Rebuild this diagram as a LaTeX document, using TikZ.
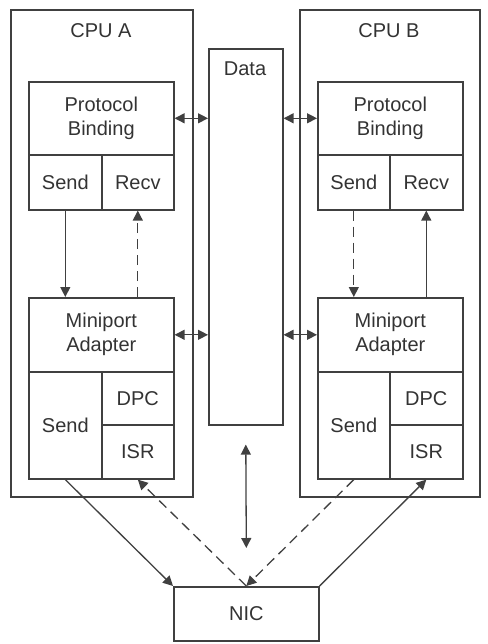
\documentclass[tikz,border=0pt]{standalone}
\usepackage{fontspec}
\setmainfont{Liberation Sans}
\usetikzlibrary{arrows.meta}
\definecolor{lc}{HTML}{404040}
\definecolor{tc}{HTML}{333333}
\begin{document}
\begin{tikzpicture}[x=1pt,y=-1pt,
  box/.style={draw=lc, line width=1.6pt, inner sep=0pt, anchor=north west, font=\fontsize{20}{24}\selectfont, text=tc, align=center},
  ttl/.style={font=\fontsize{20}{24}\selectfont, text=tc, inner sep=0pt},
  arr/.style={draw=lc, line width=1.3pt, -{Triangle[length=10pt,width=10pt]}},
  darr/.style={arr, dash pattern=on 10pt off 6pt},
  barr/.style={draw=lc, line width=1.3pt, {Triangle[length=10pt,width=10pt]}-{Triangle[length=10pt,width=10pt]}}]
\useasboundingbox (0,0) rectangle (487,644);
% outer CPU boxes
\node[box, minimum width=182pt, minimum height=487pt] (cpuA) at (10,9) {};
\node[box, minimum width=180pt, minimum height=487pt] (cpuB) at (299,9) {};
\node[ttl] (cpuAt) at (101,31) {CPU A};
\node[ttl] (cpuBt) at (389,31) {CPU B};
% data
\node[box, minimum width=74pt, minimum height=376pt] (data) at (208,48) {};
\node[ttl] (datat) at (245,69) {Data};
% CPU A
\node[box, minimum width=145pt, minimum height=73pt] (pbA) at (28,81) {Protocol\\Binding};
\node[box, minimum width=73pt, minimum height=55pt] (sendA) at (28,154) {Send};
\node[box, minimum width=72pt, minimum height=55pt] (recvA) at (101,154) {Recv};
\node[box, minimum width=145pt, minimum height=74pt] (mpA) at (28,297) {Miniport\\Adapter};
\node[box, minimum width=73pt, minimum height=107pt] (msendA) at (28,371) {Send};
\node[box, minimum width=72pt, minimum height=53pt] (dpcA) at (101,371) {DPC};
\node[box, minimum width=72pt, minimum height=54pt] (isrA) at (101,424) {ISR};
% CPU B
\node[box, minimum width=145pt, minimum height=73pt] (pbB) at (317,81) {Protocol\\Binding};
\node[box, minimum width=72pt, minimum height=55pt] (sendB) at (317,154) {Send};
\node[box, minimum width=73pt, minimum height=55pt] (recvB) at (389,154) {Recv};
\node[box, minimum width=145pt, minimum height=74pt] (mpB) at (317,297) {Miniport\\Adapter};
\node[box, minimum width=72pt, minimum height=107pt] (msendB) at (317,371) {Send};
\node[box, minimum width=73pt, minimum height=53pt] (dpcB) at (389,371) {DPC};
\node[box, minimum width=73pt, minimum height=54pt] (isrB) at (389,424) {ISR};
% NIC
\node[box, minimum width=145pt, minimum height=54pt] (nic) at (173,586) {NIC};
% vertical arrows inside CPUs
\draw[arr] (sendA.south) -- (sendA.south |- mpA.north);
\draw[darr] (recvA.south |- mpA.north) -- (recvA.south);
\draw[darr] (sendB.south) -- (sendB.south |- mpB.north);
\draw[arr] (recvB.south |- mpB.north) -- (recvB.south);
% horizontal arrows to data
\draw[barr] (pbA.east) -- (pbA.east -| data.west);
\draw[barr] (mpA.east) -- (mpA.east -| data.west);
\draw[barr] (pbB.west -| data.east) -- (pbB.west);
\draw[barr] (mpB.west -| data.east) -- (mpB.west);
% data to NIC
\draw[barr] ([yshift=-19pt]data.south) -- ([yshift=38pt]nic.north);
% diagonals
\draw[arr] (msendA.south) -- (nic.north west);
\draw[darr] (nic.north) -- (isrA.south);
\draw[darr] (msendB.south) -- (nic.north);
\draw[arr] (nic.north east) -- (isrB.south);
\end{tikzpicture}
\end{document}
